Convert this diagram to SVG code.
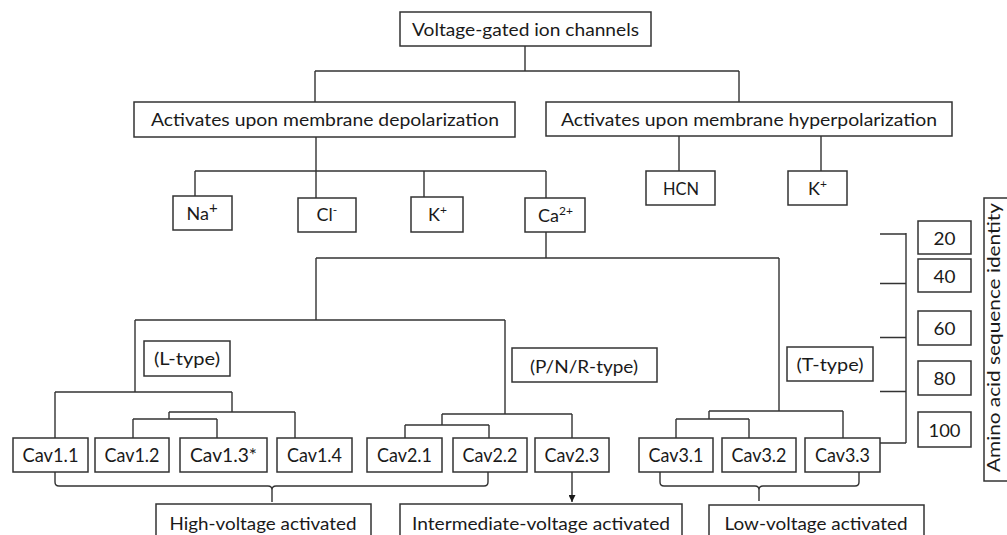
<svg xmlns="http://www.w3.org/2000/svg" width="1007" height="535" viewBox="0 0 1007 535">
<defs>
<style>
.box{fill:#fff;stroke:#333;stroke-width:1.5}
.t{font-family:Lato,"Open Sans","Liberation Sans",sans-serif;font-size:18px;fill:#1a1a1a;text-anchor:middle}
.cv{font-size:19px}
.l{font-family:Lato,"Open Sans","Liberation Sans",sans-serif;font-size:18px;fill:#1a1a1a}
.sup{font-size:12px}
.c{fill:none;stroke:#333;stroke-width:1.4}
</style>
<marker id="ah" viewBox="0 0 10 10" refX="10" refY="5" markerWidth="7" markerHeight="7" markerUnits="userSpaceOnUse" orient="auto"><path d="M0,0 L10,5 L0,10 z" fill="#1a1a1a"/></marker>
</defs>
<rect width="1007" height="535" fill="#fff"/>
<g id="connectors">
<path class="c" d="M525,46 V71 M315,71 H739 M315,71 V102 M739,71 V102"/>
<path class="c" d="M316,137 V171 M195,171 H546 M195,171 V196 M316,171 V198 M424,171 V197 M546,171 V198"/>
<path class="c" d="M679,136 V171 M821,136 V171"/>
<path class="c" d="M546,232 V258 M316,258 H779 M316,258 V320 M135,320 H505 M135,320 V392 M55,392 H232 M55,392 V438 M232,392 V412 M169,412 H295 M169,412 V419 M133,419 H217 M133,419 V438 M217,419 V438 M295,412 V438"/>
<path class="c" d="M505,320 V414 M442,414 H572 M442,414 V425 M405,425 H489 M405,425 V438 M489,425 V438 M572,414 V438"/>
<path class="c" d="M779,258 V411 M709,411 H843 M709,411 V419 M676,419 H749 M676,419 V438 M749,419 V438 M843,411 V438"/>
<path class="c" d="M906,233 V443 M880,234 H906 M880,283.5 H906 M880,337.5 H906 M880,391.5 H906 M880,443 H906"/>
<path class="c" d="M55,472 V482 Q55,486 59,486 H268 Q272,486 272,490 V502 M272,490 Q272,486 276,486 H484 Q488,486 488,482 V472"/>
<path class="c" d="M660,472 V482 Q660,486 664,486 H755 Q759,486 759,490 V501 M759,490 Q759,486 763,486 H855 Q859,486 859,482 V472"/>
<path class="c" d="M572,472 V502" marker-end="url(#ah)"/>
</g>
<g id="n-root"><rect class="box" x="400" y="12" width="251" height="34"/><text class="t" x="525.5" y="36" textLength="227" lengthAdjust="spacingAndGlyphs">Voltage-gated ion channels</text></g>
<g id="n-depol"><rect class="box" x="134" y="102" width="381" height="35"/><text class="t" x="325" y="126" textLength="348" lengthAdjust="spacingAndGlyphs">Activates upon membrane depolarization</text></g>
<g id="n-hyper"><rect class="box" x="546" y="102" width="406" height="34"/><text class="t" x="749" y="126" textLength="376" lengthAdjust="spacingAndGlyphs">Activates upon membrane hyperpolarization</text></g>
<g id="n-na"><rect class="box" x="173" y="196" width="59" height="34"/><text class="l" x="186.5" y="220">Na<tspan font-size="15" dy="-7">+</tspan></text></g>
<g id="n-cl"><rect class="box" x="298" y="198" width="58" height="34"/><text class="l" x="316.5" y="221">Cl<tspan class="sup" dy="-7">-</tspan></text></g>
<g id="n-k1"><rect class="box" x="411" y="197" width="52" height="35"/><text class="l" x="428" y="221">K<tspan class="sup" dy="-7">+</tspan></text></g>
<g id="n-ca"><rect class="box" x="525" y="198" width="60" height="34"/><text class="l" x="538" y="222">Ca<tspan class="sup" dy="-7">2+</tspan></text></g>
<g id="n-hcn"><rect class="box" x="646" y="171" width="69" height="34"/><text class="t" x="681" y="195" textLength="36" lengthAdjust="spacingAndGlyphs">HCN</text></g>
<g id="n-k2"><rect class="box" x="788" y="171" width="59" height="34"/><text class="l" x="808" y="195">K<tspan class="sup" dy="-7">+</tspan></text></g>
<g id="n-ltype"><rect class="box" x="144" y="341" width="86" height="35"/><text class="t" x="187" y="365" textLength="66" lengthAdjust="spacingAndGlyphs">(L-type)</text></g>
<g id="n-pnr"><rect class="box" x="512" y="348" width="145" height="34"/><text class="t" x="584" y="372.5" textLength="108" lengthAdjust="spacingAndGlyphs">(P/N/R-type)</text></g>
<g id="n-ttype"><rect class="box" x="787" y="347" width="86" height="34"/><text class="t" x="830" y="371" textLength="67" lengthAdjust="spacingAndGlyphs">(T-type)</text></g>
<g id="n-cav11"><rect class="box" x="13" y="438" width="75" height="34"/><text class="t cv" x="50.5" y="462" textLength="56" lengthAdjust="spacingAndGlyphs">Cav1.1</text></g>
<g id="n-cav12"><rect class="box" x="95" y="438" width="74" height="34"/><text class="t cv" x="132" y="462" textLength="55" lengthAdjust="spacingAndGlyphs">Cav1.2</text></g>
<g id="n-cav13"><rect class="box" x="180" y="438" width="87" height="34"/><text class="t cv" x="223.5" y="462" textLength="67" lengthAdjust="spacingAndGlyphs">Cav1.3*</text></g>
<g id="n-cav14"><rect class="box" x="277" y="438" width="75" height="34"/><text class="t cv" x="314.5" y="462" textLength="55" lengthAdjust="spacingAndGlyphs">Cav1.4</text></g>
<g id="n-cav21"><rect class="box" x="367" y="438" width="75" height="34"/><text class="t cv" x="404.5" y="462" textLength="55" lengthAdjust="spacingAndGlyphs">Cav2.1</text></g>
<g id="n-cav22"><rect class="box" x="453" y="438" width="74" height="34"/><text class="t cv" x="490" y="462" textLength="55" lengthAdjust="spacingAndGlyphs">Cav2.2</text></g>
<g id="n-cav23"><rect class="box" x="535" y="438" width="74" height="34"/><text class="t cv" x="572" y="462" textLength="55" lengthAdjust="spacingAndGlyphs">Cav2.3</text></g>
<g id="n-cav31"><rect class="box" x="639" y="438" width="74" height="34"/><text class="t cv" x="676" y="462" textLength="55" lengthAdjust="spacingAndGlyphs">Cav3.1</text></g>
<g id="n-cav32"><rect class="box" x="722" y="438" width="74" height="34"/><text class="t cv" x="759" y="462" textLength="55" lengthAdjust="spacingAndGlyphs">Cav3.2</text></g>
<g id="n-cav33"><rect class="box" x="805" y="438" width="75" height="34"/><text class="t cv" x="842.5" y="462" textLength="55" lengthAdjust="spacingAndGlyphs">Cav3.3</text></g>
<g id="n-high"><rect class="box" x="156" y="504" width="215" height="45"/><text class="t" x="263" y="530" textLength="187" lengthAdjust="spacingAndGlyphs">High-voltage activated</text></g>
<g id="n-inter"><rect class="box" x="400" y="504" width="282" height="45"/><text class="t" x="541" y="530" textLength="258" lengthAdjust="spacingAndGlyphs">Intermediate-voltage activated</text></g>
<g id="n-low"><rect class="box" x="709" y="505" width="215" height="45"/><text class="t" x="816" y="530" textLength="183" lengthAdjust="spacingAndGlyphs">Low-voltage activated</text></g>
<g id="n-s20"><rect class="box" x="918" y="221" width="53" height="33"/><text class="t" x="944.5" y="245" textLength="22" lengthAdjust="spacingAndGlyphs">20</text></g>
<g id="n-s40"><rect class="box" x="918" y="259" width="53" height="33"/><text class="t" x="944.5" y="282.5" textLength="22" lengthAdjust="spacingAndGlyphs">40</text></g>
<g id="n-s60"><rect class="box" x="918" y="311" width="53" height="34"/><text class="t" x="944.5" y="335" textLength="22" lengthAdjust="spacingAndGlyphs">60</text></g>
<g id="n-s80"><rect class="box" x="918" y="361" width="53" height="34"/><text class="t" x="944.5" y="385" textLength="22" lengthAdjust="spacingAndGlyphs">80</text></g>
<g id="n-s100"><rect class="box" x="918" y="412" width="53" height="35"/><text class="t" x="944.5" y="436.5" textLength="32" lengthAdjust="spacingAndGlyphs">100</text></g>
<g id="n-identity"><rect class="box" x="984" y="198" width="40" height="283"/><text class="t" transform="translate(1000,337.5) rotate(-90)" x="0" y="0" textLength="269" lengthAdjust="spacingAndGlyphs">Amino acid sequence identity</text></g>
</svg>
